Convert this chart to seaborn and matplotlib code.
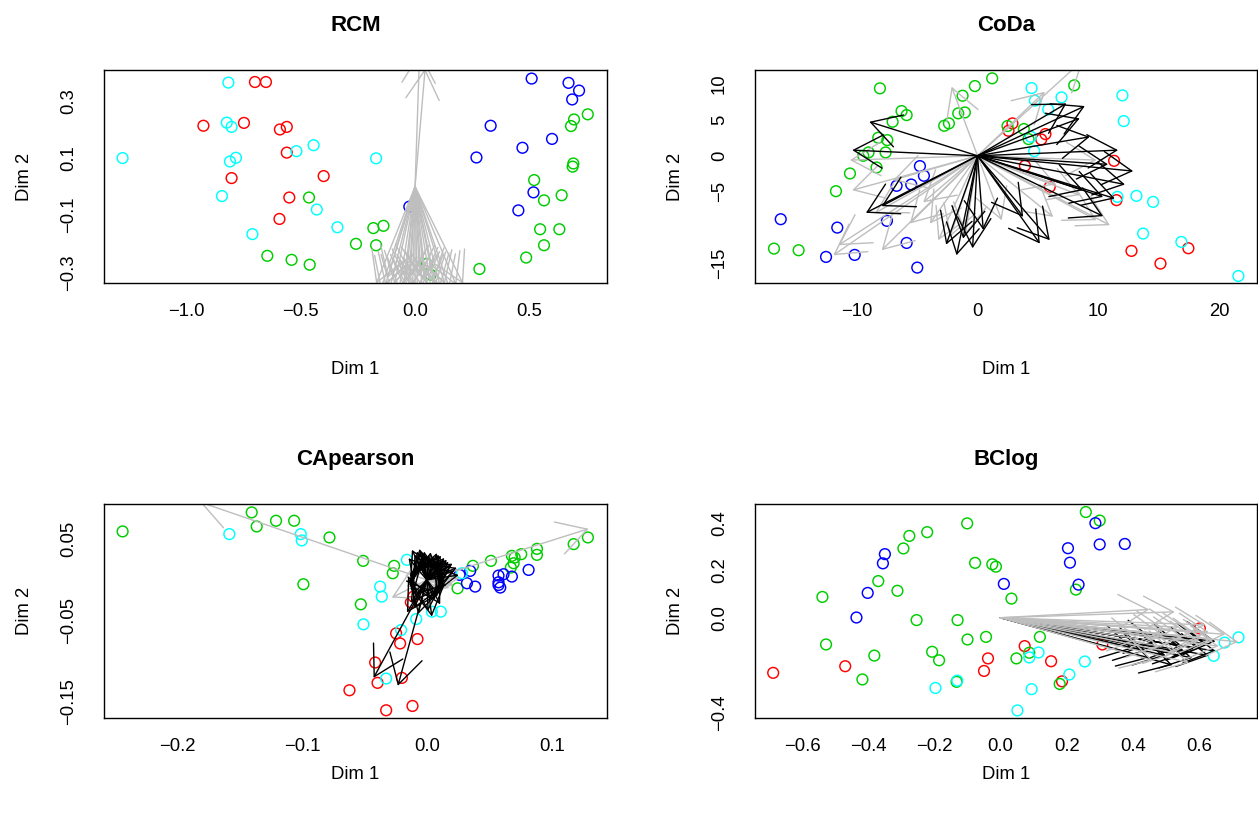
import matplotlib
matplotlib.use("Agg")
import numpy as np
import pandas as pd
import matplotlib.pyplot as plt
import seaborn as sns
from matplotlib.patches import FancyArrowPatch

sns.set_style("white")
plt.rcParams["font.family"] = ["Liberation Sans", "DejaVu Sans"]
plt.rcParams.update({"text.color": "black", "axes.labelcolor": "black",
                     "xtick.color": "black", "ytick.color": "black"})

GROUP_COLORS = {"g1": "#FF0000", "g2": "#00CD00", "g3": "#0000FF", "g4": "#00FFFF"}

# ---------------- RCM ----------------
rcm_g1_x = [-0.699, -0.651, -0.924, -0.747, -0.590, -0.560, -0.560, -0.801, -0.399, -0.549, -0.592]
rcm_g1_y = [0.366, 0.366, 0.213, 0.223, 0.200, 0.209, 0.119, 0.030, 0.037, -0.038, -0.113]
rcm_g2_x = [-0.463, -0.182, -0.138, -0.258, -0.170, -0.645, -0.539, -0.460, 0.051, 0.068, 0.281,
            0.754, 0.694, 0.681, 0.691, 0.688, 0.520, 0.563, 0.640, 0.546, 0.630, 0.563, 0.485]
rcm_g2_y = [-0.038, -0.145, -0.137, -0.200, -0.205, -0.242, -0.256, -0.273, -0.270, -0.308, -0.288,
            0.253, 0.235, 0.212, 0.081, 0.070, 0.023, -0.048, -0.030, -0.149, -0.149, -0.205, -0.248]
rcm_g3_x = [0.509, 0.670, 0.716, 0.686, 0.330, 0.598, 0.469, 0.268, 0.517, 0.451, -0.025]
rcm_g3_y = [0.378, 0.363, 0.336, 0.305, 0.213, 0.167, 0.136, 0.102, -0.020, -0.083, -0.070]
rcm_g4_x = [-0.815, -0.822, -0.801, -1.277, -0.808, -0.782, -0.843, -0.518, -0.443, -0.429, -0.710, -0.339, -0.170]
rcm_g4_y = [0.364, 0.224, 0.209, 0.100, 0.088, 0.101, -0.033, 0.124, 0.145, -0.080, -0.166, -0.142, 0.099]
rcm_grey_x = [-0.17, -0.15, -0.13, -0.11, -0.09, -0.07, -0.05, -0.03, -0.01, 0.01, 0.03, 0.05, 0.07, 0.09,
              0.11, 0.13, 0.15, 0.18, 0.21, -0.12, -0.04, 0.00, 0.04, 0.08, -0.02, 0.02, 0.044, 0.02]
rcm_grey_y = [-0.34, -0.36, -0.345, -0.355, -0.34, -0.36, -0.35, -0.365, -0.345, -0.36, -0.35, -0.34, -0.355, -0.345,
              -0.35, -0.34, -0.355, -0.345, -0.34, -0.32, -0.33, -0.37, -0.325, -0.33, -0.31, -0.315, 0.413, 0.47]
rcm_black_x = []
rcm_black_y = []

# ---------------- CoDa ----------------
coda_g1_x = [2.89, 2.56, 5.62, 5.27, 3.92, 5.98, 11.30, 11.50, 12.74, 15.14, 17.45]
coda_g1_y = [4.52, 3.49, 3.03, 2.28, -1.40, -4.33, -0.70, -6.19, -13.27, -15.04, -12.90]
coda_g2_x = [-8.08, 1.21, -0.22, -1.24, -6.29, -5.87, -7.03, -1.60, -1.05, -2.76, -2.37, 8.00, -8.22,
             -7.47, -7.61, -9.02, -9.46, -8.36, -10.56, -11.72, -16.85, -14.81, 2.48, 3.83, 4.22]
coda_g2_y = [9.41, 10.81, 9.73, 8.38, 6.24, 5.68, 4.75, 5.92, 6.05, 4.19, 4.52, 9.83, 2.52,
             2.19, 0.47, 0.47, 0.00, -1.63, -2.47, -4.94, -12.95, -13.18, 4.15, 3.73, 2.33]
coda_g3_x = [-4.77, -4.44, -6.70, -5.49, -16.29, -11.61, -7.50, -5.87, -12.54, -10.17, -4.99]
coda_g3_y = [-1.44, -2.79, -4.19, -4.01, -8.85, -10.02, -9.08, -12.16, -14.11, -13.83, -15.60]
coda_g4_x = [4.47, 4.74, 6.95, 5.85, 11.99, 12.10, 4.41, 4.69, 11.58, 13.15, 14.53, 13.70, 16.87, 21.59]
coda_g4_y = [9.45, 7.69, 8.15, 6.47, 8.43, 4.84, 2.65, 0.65, -5.73, -5.59, -6.43, -10.85, -12.02, -16.77]
coda_grey_x = [-2.15, -10.37, -11.94, -11.52, -7.94, -3.94, -3.25, -2.29, -5.60, 5.57, 8.74, 10.95,
               9.84, 8.46, 6.26, 9.84, -10.56, -6.98, -4.5, -1.0, 2.0, 6.5, -8.5]
coda_grey_y = [9.64, -4.80, -13.88, -12.48, -13.18, -9.45, -11.78, -11.32, -9.45, 8.94, 13.37, -9.69,
               -8.99, -5.50, -8.52, -0.60, -0.60, -3.40, -6.5, -11.0, -9.0, -4.0, -8.0]
coda_black_x = [-8.96, -10.37, -9.24, -7.94, -1.74, -0.41, -1.19, 0.47, -2.6, 7.36, 8.88, 9.29,
                11.63, 12.88, 11.36, 10.39, 5.16, 5.98, 8.46, 10.39, 8.74, 3.78, 10.8, 12.2]
coda_black_y = [4.75, 0.79, -7.96, -7.03, -13.88, -12.90, -11.55, -10.34, -12.4, 7.31, 6.94, 2.65,
                0.79, -2.14, -5.96, -8.43, -12.25, -11.78, 5.22, -5.73, -4.80, -8.52, -1.2, -4.0]

# ---------------- CApearson ----------------
cap_g1_x = [-0.0128, -0.0246, -0.0214, -0.0075, -0.0414, -0.0395, -0.0200, -0.0620, -0.0326, -0.0115, -0.0107]
cap_g1_y = [-0.0275, -0.0657, -0.0781, -0.0727, -0.1015, -0.1265, -0.1204, -0.1356, -0.1602, -0.1549, -0.0205]
cap_g2_x = [-0.2437, -0.1403, -0.1363, -0.1208, -0.1063, -0.0780, -0.0510, -0.0262, -0.0273, -0.0989, -0.0529,
            0.0246, 0.0369, 0.0513, 0.0681, 0.0703, 0.0695, 0.0756, 0.0882, 0.0882, 0.0673, 0.1176, 0.1290]
cap_g2_y = [0.0596, 0.0830, 0.0657, 0.0727, 0.0727, 0.0522, 0.0234, 0.0173, 0.0082, -0.0053, -0.0300,
            -0.0103, 0.0173, 0.0234, 0.0296, 0.0275, 0.0205, 0.0316, 0.0382, 0.0308, 0.0152, 0.0440, 0.0522]
cap_g3_x = [0.0347, 0.0262, 0.0321, 0.0387, 0.0574, 0.0614, 0.0681, 0.0574, 0.0574, 0.0588, 0.0815]
cap_g3_y = [0.0111, 0.0062, -0.0041, -0.0082, 0.0053, 0.0070, 0.0041, -0.0029, -0.0062, -0.0094, 0.0123]
cap_g4_x = [-0.1582, -0.1010, -0.1002, -0.0160, -0.0374, -0.0361, -0.0508, 0.0040, 0.0112, -0.0085, -0.0206, -0.0326, 0.0281]
cap_g4_y = [0.0563, 0.0563, 0.0485, 0.0247, -0.0082, -0.0205, -0.0546, -0.0390, -0.0390, -0.0481, -0.0616, -0.1212, 0.0082]
cap_grey_x = [-0.1817, 0.1296, -0.0281, 0.0214, 0.0160, 0.0120, 0.0080, 0.0230, 0.0060, 0.0260, 0.0180]
cap_grey_y = [0.0957, 0.0629, -0.0218, -0.0062, 0.0000, -0.0150, 0.0200, 0.0060, -0.0200, 0.0020, -0.0100]
cap_black_x = [-0.0120, -0.0080, -0.0053, -0.0021, 0.0013, 0.0053, 0.0112, 0.0160, 0.0192, 0.0219, 0.0094,
               0.0107, -0.0120, -0.0102, -0.0427, -0.0232, -0.0147, -0.0060, 0.0080, 0.0140, 0.0040, -0.0160,
               -0.0100, -0.0035, 0.0030, 0.0095, 0.0130, 0.0175, 0.0205, 0.0240, 0.0255, -0.0130, 0.0060,
               -0.0070, 0.0010]
cap_black_y = [0.0370, 0.0349, 0.0357, 0.0349, 0.0308, 0.0288, 0.0300, 0.0247, 0.0177, 0.0111, -0.0185,
               -0.0300, -0.0185, -0.0349, -0.1204, -0.1302, 0.0267, 0.0380, 0.0330, 0.0270, -0.0450, -0.0400,
               0.0310, 0.0330, 0.0340, 0.0310, 0.0240, 0.0220, 0.0200, 0.0150, 0.0060, -0.0280, -0.0250,
               -0.0420, -0.0380]

# ---------------- BClog ----------------
bcl_g1_x = [-0.688, -0.470, -0.050, -0.038, 0.073, 0.153, 0.186, 0.308, 0.603]
bcl_g1_y = [-0.233, -0.205, -0.225, -0.172, -0.120, -0.184, -0.269, -0.113, -0.045]
bcl_g2_x = [0.258, 0.300, -0.101, -0.222, -0.276, -0.294, -0.370, -0.312, -0.539, -0.077, -0.025, -0.014,
            0.033, 0.228, -0.254, -0.130, -0.100, -0.044, 0.119, -0.528, -0.382, -0.207, -0.186, -0.418,
            -0.133, 0.048, 0.087, 0.179]
bcl_g2_y = [0.447, 0.411, 0.399, 0.362, 0.346, 0.293, 0.155, 0.114, 0.088, 0.232, 0.226, 0.216,
            0.081, 0.119, -0.010, -0.010, -0.092, -0.081, -0.081, -0.113, -0.160, -0.144, -0.180, -0.261,
            -0.271, -0.172, -0.148, -0.280]
bcl_g3_x = [0.287, 0.204, 0.300, 0.376, 0.210, 0.236, 0.010, -0.350, -0.356, -0.402, -0.436]
bcl_g3_y = [0.400, 0.294, 0.310, 0.312, 0.233, 0.140, 0.143, 0.269, 0.230, 0.105, 0.001]
bcl_g4_x = [-0.197, -0.131, 0.051, 0.094, 0.087, 0.115, 0.208, 0.255, 0.645, 0.678, 0.720]
bcl_g4_y = [-0.297, -0.266, -0.392, -0.302, -0.168, -0.147, -0.240, -0.185, -0.161, -0.105, -0.083]
bcl_black_x = [0.651, 0.60, 0.55, 0.50, 0.45, 0.40, 0.62, 0.58, 0.52, 0.47, 0.65, 0.44, 0.56, 0.63]
bcl_black_y = [-0.141, -0.13, -0.12, -0.16, -0.17, -0.13, -0.11, -0.17, -0.20, -0.10, -0.10, -0.14, -0.15, -0.16]
bcl_grey_x = [0.527, 0.45, 0.719, 0.62, 0.58, 0.50, 0.55, 0.60, 0.48, 0.53, 0.66, 0.42, 0.46, 0.57,
              0.63, 0.68, 0.54, 0.61, 0.49, 0.64]
bcl_grey_y = [0.025, 0.035, -0.102, -0.03, -0.06, -0.05, -0.08, -0.10, -0.12, -0.15, -0.12, -0.09, -0.18, -0.19,
              -0.06, -0.07, -0.04, -0.085, -0.07, -0.09]


def points_frame(g1x, g1y, g2x, g2y, g3x, g3y, g4x, g4y):
    parts = []
    for name, xs, ys in (("g1", g1x, g1y), ("g2", g2x, g2y), ("g3", g3x, g3y), ("g4", g4x, g4y)):
        parts.append(pd.DataFrame({"x": xs, "y": ys, "grp": name}))
    return pd.concat(parts, ignore_index=True)


def add_arrows(ax, xs, ys, color):
    for x, y in zip(xs, ys):
        ax.add_patch(FancyArrowPatch((0, 0), (x, y),
                                     arrowstyle="->,head_length=2.1,head_width=1.2",
                                     mutation_scale=10, color=color, lw=1.0,
                                     shrinkA=0, shrinkB=0))


def draw_panel(ax, df, grey, black, title, xlim, ylim, xticks, xlabels, yticks, ylabels,
               xlabel_pad, grey_on_top=False):
    sns.scatterplot(data=df, x="x", y="y", hue="grp", palette=GROUP_COLORS,
                    s=60, linewidth=1.05, legend=False, ax=ax)
    coll = ax.collections[-1]
    fc = coll.get_facecolors()
    coll.set_edgecolors(fc)
    coll.set_facecolors("none")
    if grey_on_top:
        add_arrows(ax, black[0], black[1], "black")
        add_arrows(ax, grey[0], grey[1], "#BEBEBE")
    else:
        add_arrows(ax, grey[0], grey[1], "#BEBEBE")
        add_arrows(ax, black[0], black[1], "black")
    ax.set_xlim(*xlim)
    ax.set_ylim(*ylim)
    ax.set_xticks(xticks)
    ax.set_xticklabels(xlabels)
    ax.set_yticks(yticks)
    ax.set_yticklabels(ylabels, rotation=90, va="center")
    for sp in ax.spines.values():
        sp.set_visible(True)
        sp.set_color("black")
        sp.set_linewidth(1.0)
    ax.tick_params(direction="out", length=8.6, width=1.0, colors="black", labelsize=13.3)
    ax.tick_params(axis="x", pad=6)
    ax.tick_params(axis="y", pad=11)
    ax.set_xlabel("Dim 1", fontsize=13.3, labelpad=xlabel_pad, color="black")
    ax.set_ylabel("Dim 2", fontsize=13.3, labelpad=19, color="black")
    ax.set_title(title, fontsize=16, fontweight="bold", pad=28, color="black")


def fmt(v, show, nd):
    if not show:
        return ""
    s = f"{v:.{nd}f}" if nd > 0 else f"{v:g}"
    return s.replace("-", "\u2212")


fig = plt.figure(figsize=(12.58, 8.14), dpi=100)
W, H = 1258, 814
def box(l, t, r, b):
    return [l / W, (H - b) / H, (r - l) / W, (b - t) / H]

ax1 = fig.add_axes(box(104, 70, 607, 283))
ax2 = fig.add_axes(box(755, 70, 1257, 283))
ax3 = fig.add_axes(box(104, 504, 607, 718))
ax4 = fig.add_axes(box(755, 504, 1257, 718))

# RCM
xt = [-1.0, -0.5, 0.0, 0.5]
yt = [0.4, 0.3, 0.2, 0.1, 0.0, -0.1, -0.2, -0.3]
draw_panel(ax1, points_frame(rcm_g1_x, rcm_g1_y, rcm_g2_x, rcm_g2_y, rcm_g3_x, rcm_g3_y, rcm_g4_x, rcm_g4_y),
           (rcm_grey_x, rcm_grey_y), (rcm_black_x, rcm_black_y), "RCM",
           (-1.358, 0.838), (-0.337, 0.408),
           xt, [fmt(v, True, 1) for v in xt],
           yt, [fmt(v, v in (0.3, 0.1, -0.1, -0.3), 1) for v in yt], 29)

# CoDa
xt = [-10, 0, 10, 20]
yt = [10, 5, 0, -5, -10, -15]
draw_panel(ax2, points_frame(coda_g1_x, coda_g1_y, coda_g2_x, coda_g2_y, coda_g3_x, coda_g3_y, coda_g4_x, coda_g4_y),
           (coda_grey_x, coda_grey_y), (coda_black_x, coda_black_y), "CoDa",
           (-18.42, 23.13), (-17.75, 11.97),
           xt, [fmt(v, True, 0) for v in xt],
           yt, [fmt(v, v != -10, 0) for v in yt], 29)

# CApearson
xt = [-0.2, -0.1, 0.0, 0.1]
yt = [0.05, 0.0, -0.05, -0.10, -0.15]
draw_panel(ax3, points_frame(cap_g1_x, cap_g1_y, cap_g2_x, cap_g2_y, cap_g3_x, cap_g3_y, cap_g4_x, cap_g4_y),
           (cap_grey_x, cap_grey_y), (cap_black_x, cap_black_y), "CApearson",
           (-0.2586, 0.1443), (-0.1697, 0.0933),
           xt, [fmt(v, True, 1) for v in xt],
           yt, [fmt(v, v in (0.05, -0.05, -0.15), 2) for v in yt], 7.5)

# BClog
xt = [-0.6, -0.4, -0.2, 0.0, 0.2, 0.4, 0.6]
yt = [0.4, 0.2, 0.0, -0.2, -0.4]
draw_panel(ax4, points_frame(bcl_g1_x, bcl_g1_y, bcl_g2_x, bcl_g2_y, bcl_g3_x, bcl_g3_y, bcl_g4_x, bcl_g4_y),
           (bcl_grey_x, bcl_grey_y), (bcl_black_x, bcl_black_y), "BClog",
           (-0.743, 0.776), (-0.424, 0.481),
           xt, [fmt(v, True, 1) for v in xt],
           yt, [fmt(v, v != -0.2, 1) for v in yt], 7.5, grey_on_top=True)

fig.savefig("out.png", dpi=100)
